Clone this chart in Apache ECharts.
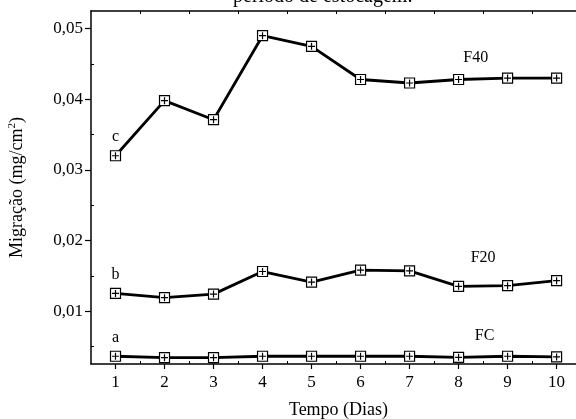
<!DOCTYPE html>
<html>
<head>
<meta charset="utf-8">
<script src="https://cdn.jsdelivr.net/npm/echarts@6/dist/echarts.min.js"></script>
<style>
  html, body { margin: 0; padding: 0; background: #fff; }
  #chart { width: 576px; height: 419px; }
</style>
</head>
<body>
<div id="chart"></div>
<script>
    // dias de estocagem
    var dias = [1, 2, 3, 4, 5, 6, 7, 8, 9, 10];
    // migracao (mg/cm2) por formulacao
    var f40 = [0.0320, 0.0398, 0.0371, 0.0490, 0.0475, 0.0428, 0.0423, 0.0428, 0.0430, 0.0430];
    var f20 = [0.0125, 0.0119, 0.0124, 0.0156, 0.0141, 0.0158, 0.0157, 0.0135, 0.0136, 0.0143];
    var fc = [0.0036, 0.0034, 0.0034, 0.0036, 0.0036, 0.0036, 0.0036, 0.00345, 0.0036, 0.0035];
    var letras = ['c', 'b', 'a'];
    var yTicks = [0.01, 0.02, 0.03, 0.04, 0.05];
    var yMinor = [0.005, 0.015, 0.025, 0.035, 0.045];
    var xMinor = [1.5, 2.5, 3.5, 4.5, 5.5, 6.5, 7.5, 8.5, 9.5, 10.5];

    var fonte = 'Liberation Serif';
    var simbolo = 'path://M0,0H10V10H0Z M5,1.5V8.5 M1.5,5H8.5';

    function pares(vals) {
        return vals.map(function (v, i) { return [dias[i], v]; });
    }

    function serie(nome, vals, letra, tagPos) {
        var data = pares(vals);
        data[0] = {
            value: data[0],
            label: { show: true, position: 'top', distance: 5, formatter: letra,
                color: '#000', fontFamily: fonte, fontSize: 16 }
        };
        return {
            name: nome,
            type: 'line',
            data: data,
            symbol: simbolo,
            symbolSize: 10,
            showSymbol: true,
            lineStyle: { color: '#000', width: 2.8 },
            itemStyle: { color: '#fff', borderColor: '#000', borderWidth: 1.2 },
            label: { show: false },
            z: 3,
            markPoint: {
                symbol: 'circle',
                symbolSize: 0,
                label: { show: true, formatter: nome, color: '#000', fontFamily: fonte, fontSize: 16 },
                data: [{ coord: tagPos }]
            },
            animation: false
        };
    }

    var chart = echarts.init(document.getElementById('chart'));
    var eixoY = {
        type: 'value', min: 0.0025, max: 0.0525,
        splitLine: { show: false }
    };
    var eixoX = {
        type: 'value', min: 0.5, max: 10.6,
        splitLine: { show: false }
    };

    var option = {
        backgroundColor: '#fff',
        title: {
            text: 'período de estocagem.',
            left: 228, top: -18,
            textStyle: { fontFamily: fonte, fontSize: 20, fontWeight: 'normal', color: '#000' }
        },
        grid: { left: 91, top: 11, right: -10, bottom: 55, outerBoundsMode: 'none', containLabel: false },
        xAxis: [
            Object.assign({}, eixoX, {
                position: 'bottom',
                name: 'Tempo (Dias)', nameLocation: 'middle', nameGap: 37,
                nameTextStyle: { fontFamily: fonte, fontSize: 18, color: '#000' },
                axisLine: { show: true, lineStyle: { color: '#000', width: 1.5 } },
                axisTick: { show: true, length: 5, customValues: dias, lineStyle: { color: '#000', width: 1.2 } },
                axisLabel: { customValues: dias, margin: 10, fontFamily: fonte, fontSize: 17, color: '#000',
                    formatter: function (v) { return String(v); } }
            }),
            Object.assign({}, eixoX, {
                position: 'bottom',
                axisLine: { show: false },
                axisTick: { show: true, inside: true, length: 3, customValues: xMinor, lineStyle: { color: '#000' } },
                axisLabel: { show: false }
            }),
            Object.assign({}, eixoX, {
                position: 'top',
                axisLine: { show: true, lineStyle: { color: '#000', width: 1.5 } },
                axisTick: { show: true, inside: true, length: 3, customValues: xMinor, lineStyle: { color: '#000' } },
                axisLabel: { show: false }
            })
        ],
        yAxis: [
            Object.assign({}, eixoY, {
                position: 'left',
                name: 'Migração (mg/cm{sup|2})', nameLocation: 'middle', nameGap: 63,
                nameTextStyle: { fontFamily: fonte, fontSize: 18, color: '#000',
                    rich: { sup: { fontFamily: fonte, fontSize: 11, color: '#000', verticalAlign: 'top', padding: [0, 0, 10, 0] } } },
                axisLine: { show: true, lineStyle: { color: '#000', width: 1.5 } },
                axisTick: { show: true, length: 6, customValues: yTicks, lineStyle: { color: '#000', width: 1.2 } },
                axisLabel: { customValues: yTicks, margin: 8, fontFamily: fonte, fontSize: 17, color: '#000',
                    formatter: function (v) { return v.toFixed(2).replace('.', ','); } }
            }),
            Object.assign({}, eixoY, {
                position: 'left',
                axisLine: { show: false },
                axisTick: { show: true, inside: true, length: 3, customValues: yMinor, lineStyle: { color: '#000' } },
                axisLabel: { show: false }
            })
        ],
        series: [
            serie('F40', f40, letras[0], [8.35, 0.0459]),
            serie('F20', f20, letras[1], [8.5, 0.0175]),
            serie('FC', fc, letras[2], [8.53, 0.0065])
        ]
    };
    chart.setOption(option);
</script>
</body>
</html>
